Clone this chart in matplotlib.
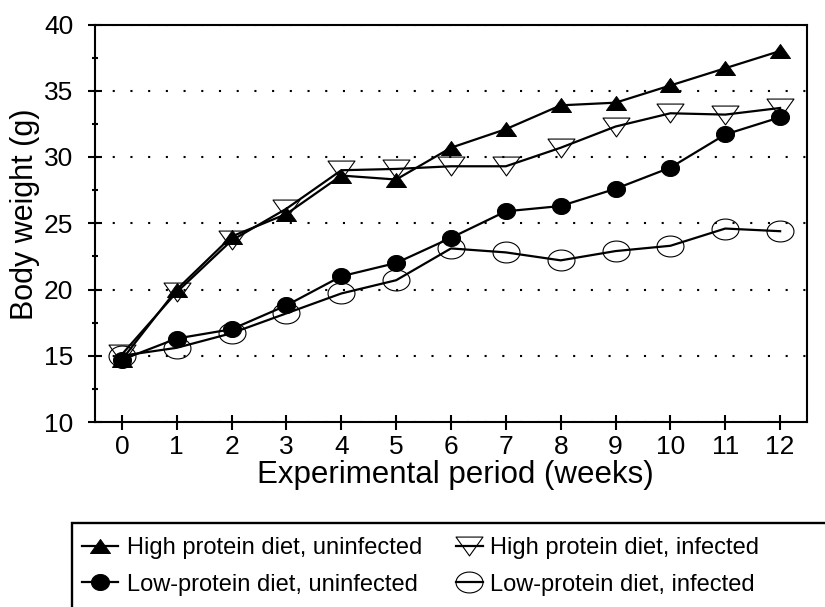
import numpy as np
import matplotlib
matplotlib.use("Agg")
import matplotlib.pyplot as plt
from matplotlib.path import Path
from matplotlib.patches import Rectangle
from matplotlib.ticker import MultipleLocator

plt.rcParams['font.family'] = ['Liberation Sans', 'DejaVu Sans']

weeks = [0, 1, 2, 3, 4, 5, 6, 7, 8, 9, 10, 11, 12]
hp_uninfected = [14.7, 20.0, 24.0, 25.7, 28.6, 28.3, 30.7, 32.1, 33.9, 34.1, 35.4, 36.7, 38.0]
hp_infected = [15.1, 19.8, 23.7, 26.1, 29.0, 29.1, 29.3, 29.3, 30.7, 32.3, 33.3, 33.2, 33.7]
lp_uninfected = [14.7, 16.3, 17.0, 18.8, 21.0, 22.0, 23.9, 25.9, 26.3, 27.6, 29.2, 31.7, 33.0]
lp_infected = [15.0, 15.6, 16.7, 18.2, 19.7, 20.7, 23.1, 22.8, 22.2, 22.9, 23.3, 24.6, 24.4]

labels = ["High protein diet, uninfected", "High protein diet, infected",
          "Low-protein diet, uninfected", "Low-protein diet, infected"]

# custom stretched markers
def ellipse(ratio):
    t = np.linspace(0, 2 * np.pi, 73)
    v = np.column_stack([np.cos(t), np.sin(t) / ratio])
    return Path(v, closed=True)

tri_up = Path([(0, 0.70), (-1, -0.70), (1, -0.70), (0, 0.70)], closed=True)
tri_down = Path([(0, -0.70), (-1, 0.70), (1, 0.70), (0, -0.70)], closed=True)

W, H = 825, 607
fig = plt.figure(figsize=(W / 100, H / 100), dpi=100)
ax = fig.add_axes([95 / W, 1 - 422 / H, 712 / W, 397.5 / H])

lw = 1.6
h1, = ax.plot(weeks, hp_uninfected, color='black', lw=lw, marker=tri_up, ms=14.4,
              mfc='black', mec='black', mew=0.7, label=labels[0], zorder=4)
h2, = ax.plot(weeks, hp_infected, color='black', lw=lw, marker=tri_down, ms=19.4,
              mfc='none', mec='black', mew=0.8, label=labels[1], zorder=3)
h3, = ax.plot(weeks, lp_uninfected, color='black', lw=lw, marker=ellipse(1.125), ms=13,
              mfc='black', mec='black', mew=0.7, label=labels[2], zorder=4)
h4, = ax.plot(weeks, lp_infected, color='black', lw=lw, marker=ellipse(1.29), ms=19.4,
              mfc='none', mec='black', mew=0.8, label=labels[3], zorder=3)

ax.set_xlim(-0.49, 12.49)
ax.set_ylim(10, 40)
ax.set_xticks(weeks)
ax.yaxis.set_major_locator(MultipleLocator(5))
ax.yaxis.set_minor_locator(MultipleLocator(2.5))

for s in ax.spines.values():
    s.set_linewidth(1.5)

ax.tick_params(axis='x', which='major', direction='inout', length=10.8, width=1.5,
               labelsize=19, pad=4)
ax.tick_params(axis='y', which='major', direction='inout', length=9.4, width=1.5,
               labelsize=19, pad=11)
ax.tick_params(axis='y', which='minor', direction='inout', length=5, width=1.5)

ax.yaxis.grid(True, which='major', color='black', lw=1.5, linestyle=(0, (1, 7.5)))
ax.set_axisbelow(True)

ax.set_xlabel("Experimental period (weeks)", fontsize=22.5, va='baseline')
ax.xaxis.set_label_coords((455 - 95) / 712, (422 - 483) / 397.5)
ax.set_ylabel("Body weight (g)", fontsize=22, va='center')
ax.yaxis.set_label_coords((25 - 95) / 712, (422 - 214) / 397.5)

# legend frame (cut off at the figure edge)
fig.add_artist(Rectangle((71.7 / W, -0.2), 1.2, 0.2 + 1 - 522.7 / H,
                         transform=fig.transFigure, fill=False, lw=1.7,
                         edgecolor='black'))

leg1 = fig.legend([h1, h3], [labels[0], labels[2]], loc='upper left',
                  bbox_to_anchor=(82 / W, 1 - 537 / H), frameon=False,
                  fontsize=17, handlelength=1.53, handletextpad=0.38,
                  borderpad=0, borderaxespad=0, labelspacing=0.62)
leg2 = fig.legend([h2, h4], [labels[1], labels[3]], loc='upper left',
                  bbox_to_anchor=(456 / W, 1 - 537 / H), frameon=False,
                  fontsize=17, handlelength=1.14, handletextpad=0.3,
                  borderpad=0, borderaxespad=0, labelspacing=0.62)

fig.savefig("out.png", dpi=100)
